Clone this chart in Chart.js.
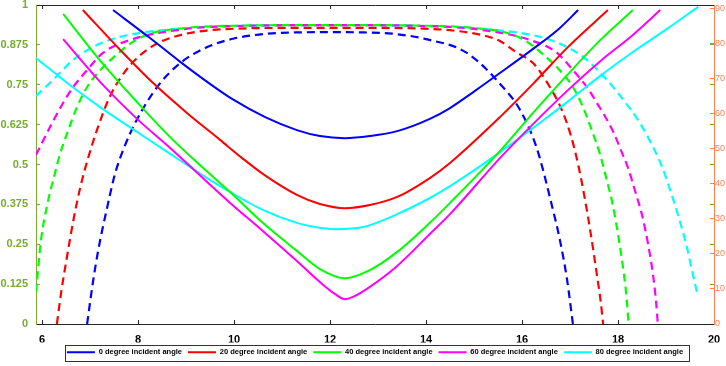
<!doctype html>
<html>
  <head>
    <title>Incident angle chart</title>
    <style>
      body { margin: 0; background: #fff; }
      #wrap { width: 726px; height: 366px; position: relative; }
    </style>
  </head>
  <body>
    <div id="wrap"><canvas id="line_chart"></canvas></div>
  </body>
  <script src="https://cdn.jsdelivr.net/npm/chart.js"></script>
  <script>
    // x axis ticks and legend text
    const xTicks = [6, 8, 10, 12, 14, 16, 18, 20];
    const angleLabels = ['0 degree incident angle', '20 degree incident angle', '40 degree incident angle',
                         '60 degree incident angle', '80 degree incident angle'];
    const lineColors = ['#0000ff', '#ff0000', '#00ff00', '#ff00ff', '#00ffff'];

    // solid curves (right axis, 0..90)
    const solid0X = [7.48, 8.25, 8.88, 9.5, 9.96, 10.65, 11.31, 11.79, 12.31, 12.83, 13.4, 14.08, 14.5, 15.02, 15.54, 16.23, 16.79, 17.17];
    const solid0Y = [89.7, 81.7, 74.9, 68.6, 64.3, 59.1, 55.4, 53.7, 53.1, 53.7, 55.1, 58.6, 61.7, 66.6, 71.7, 78.6, 84.6, 89.7];
    const solid20X = [6.85, 7.63, 8.31, 9.02, 9.71, 10.17, 10.6, 11.31, 11.79, 12.31, 12.83, 13.4, 14.08, 14.5, 15.54, 16.23, 16.94, 17.79];
    const solid20Y = [89.7, 78.3, 68.9, 60.3, 52.6, 47.4, 42.9, 36.9, 34.3, 33.1, 34.0, 36.3, 41.7, 46.0, 59.1, 68.6, 78.9, 89.7];
    const solid40X = [6.44, 7.27, 7.98, 8.67, 9.29, 9.92, 10.6, 11.31, 11.79, 12.31, 12.83, 13.4, 14.08, 14.5, 15.54, 16.23, 16.94, 17.63, 18.31];
    const solid40Y = [88.6, 74.3, 63.4, 53.4, 45.4, 37.7, 28.9, 20.9, 15.7, 13.1, 15.4, 20.6, 28.9, 34.6, 49.4, 60.3, 71.1, 81.1, 89.7];
    const solid60X = [6.44, 7.27, 7.98, 8.67, 9.35, 9.92, 10.6, 11.31, 11.79, 12.1, 12.31, 12.52, 12.83, 13.4, 14.08, 14.5, 15.54, 16.23, 16.94, 17.63, 18.31, 18.88];
    const solid60Y = [81.4, 68.3, 58.6, 50.3, 41.7, 34.6, 26.6, 18.0, 12.0, 8.6, 7.1, 8.0, 10.6, 16.6, 25.7, 31.4, 47.4, 57.1, 66.6, 75.1, 82.6, 89.7];
    const solid80X = [5.875, 6.58, 7.27, 7.98, 8.67, 9.44, 9.92, 10.6, 11.31, 11.69, 12.1, 12.69, 13.4, 14.08, 14.5, 15.13, 15.54, 16.23, 16.94, 17.63, 18.31, 19.02, 19.67];
    const solid80Y = [76.0, 68.3, 61.4, 54.9, 48.6, 41.7, 37.7, 32.6, 28.9, 27.7, 27.1, 27.7, 31.4, 36.0, 39.4, 45.1, 49.1, 56.0, 63.4, 70.9, 77.7, 84.3, 90.6];

    // dashed curves (left axis, 0..1)
    const dash0X = [6.94, 7.06, 7.17, 7.35, 7.52, 7.69, 7.94, 8.4, 8.88, 9.44, 10.0, 10.7, 11.3, 12.0, 12.7, 13.3, 14.0, 14.85, 15.6, 15.96, 16.31, 16.63, 16.79, 16.94, 17.06];
    const dash0Y = [0, 0.13, 0.23, 0.36, 0.47, 0.545, 0.63, 0.743, 0.818, 0.868, 0.895, 0.91, 0.914, 0.915, 0.914, 0.91, 0.893, 0.85, 0.743, 0.671, 0.55, 0.367, 0.263, 0.138, 0];
    const dash20X = [6.31, 6.4, 6.52, 6.66, 6.8, 6.96, 7.15, 7.42, 7.83, 8.31, 8.81, 9.44, 10.06, 11.0, 12.0, 13.0, 13.94, 14.56, 15.19, 15.54, 15.9, 16.23, 16.58, 16.83, 17.02, 17.17, 17.3, 17.43, 17.56, 17.64, 17.69];
    const dash20Y = [0, 0.1, 0.21, 0.33, 0.43, 0.52, 0.61, 0.715, 0.81, 0.872, 0.903, 0.92, 0.926, 0.928, 0.928, 0.928, 0.926, 0.92, 0.905, 0.887, 0.85, 0.818, 0.743, 0.671, 0.59, 0.5, 0.4, 0.285, 0.155, 0.07, 0];
    const dash40X = [5.875, 5.98, 6.1, 6.27, 6.37, 6.54, 6.73, 6.94, 7.21, 7.56, 7.9, 8.25, 9.0, 10.0, 12.0, 14.0, 15.0, 15.75, 16.1, 16.44, 16.79, 17.06, 17.27, 17.46, 17.63, 17.73, 17.9, 18.02, 18.12, 18.18, 18.22];
    const dash40Y = [0.1, 0.263, 0.367, 0.473, 0.53, 0.605, 0.68, 0.743, 0.795, 0.845, 0.885, 0.91, 0.928, 0.935, 0.937, 0.935, 0.928, 0.91, 0.885, 0.845, 0.795, 0.743, 0.68, 0.605, 0.53, 0.473, 0.367, 0.263, 0.16, 0.08, 0];
    const dash60X = [5.875, 6.17, 6.44, 6.65, 6.94, 7.27, 7.83, 9.0, 10.0, 12.0, 14.0, 15.0, 16.17, 16.73, 17.06, 17.35, 17.56, 17.75, 17.92, 18.06, 18.21, 18.35, 18.5, 18.63, 18.73, 18.79, 18.83];
    const dash60Y = [0.53, 0.618, 0.693, 0.743, 0.796, 0.85, 0.89, 0.925, 0.934, 0.937, 0.934, 0.925, 0.89, 0.85, 0.796, 0.743, 0.693, 0.646, 0.596, 0.545, 0.489, 0.42, 0.342, 0.248, 0.154, 0.075, 0];
    const dash80X = [5.875, 6.23, 6.65, 7.06, 7.62, 8.8, 10.0, 12.0, 14.0, 15.2, 16.38, 16.94, 17.35, 17.77, 18.1, 18.42, 18.69, 18.92, 19.1, 19.27, 19.42, 19.54, 19.65];
    const dash80Y = [0.715, 0.765, 0.828, 0.868, 0.9, 0.925, 0.934, 0.937, 0.934, 0.925, 0.9, 0.868, 0.828, 0.765, 0.705, 0.639, 0.567, 0.492, 0.414, 0.332, 0.251, 0.169, 0.097];

    const solidX = [solid0X, solid20X, solid40X, solid60X, solid80X];
    const solidY = [solid0Y, solid20Y, solid40Y, solid60Y, solid80Y];
    const dashX = [dash0X, dash20X, dash40X, dash60X, dash80X];
    const dashY = [dash0Y, dash20Y, dash40Y, dash60Y, dash80Y];

    const green = '#77ac30';
    const orange = '#ff7f50';
    const dark = '#262626';
    const fontFam = '"Liberation Sans", Arial, sans-serif';

    function toPoints(xs, ys) {
      return xs.map((x, i) => ({x: x, y: ys[i]}));
    }

    let datasets = [];
    for (let i = 0; i < 5; i++) {
      datasets.push({
        label: angleLabels[i],
        data: toPoints(solidX[i], solidY[i]),
        yAxisID: 'y2',
        borderColor: lineColors[i],
        backgroundColor: lineColors[i],
        borderWidth: 2,
        pointRadius: 0,
        cubicInterpolationMode: 'monotone',
      });
    }
    for (let i = 0; i < 5; i++) {
      datasets.push({
        label: angleLabels[i] + ' (dashed)',
        data: toPoints(dashX[i], dashY[i]),
        yAxisID: 'y',
        borderColor: lineColors[i],
        backgroundColor: lineColors[i],
        borderWidth: 2.2,
        borderDash: [8, 5],
        pointRadius: 0,
        cubicInterpolationMode: 'monotone',
      });
    }

    // box around the legend, like the matlab one
    const legendBox = {
      id: 'legendBox',
      afterDraw(chart) {
        const hb = chart.legend.legendHitBoxes;
        if (!hb || !hb.length) return;
        const last = hb[hb.length - 1];
        const ctx = chart.ctx;
        ctx.save();
        ctx.strokeStyle = '#333';
        ctx.lineWidth = 1;
        ctx.strokeRect(Math.round(hb[0].left - 2) + 0.5, Math.round(hb[0].top - 4) + 0.5,
                       Math.round(last.left + last.width + 6 - hb[0].left + 2), Math.round(hb[0].height + 8));
        ctx.restore();
      }
    };

    const fmt = (v) => String(+v.toFixed(3));
    // labels sit outside, ticks point inward: keep the label padding out of the layout
    const noPad = (s) => { s.paddingTop = 0; s.paddingBottom = 0; s.paddingLeft = 0; s.paddingRight = 0; };

    const lineChart = new Chart(document.getElementById('line_chart'), {
      type: 'line',
      data: {datasets: datasets},
      plugins: [legendBox],
      options: {
        responsive: true,
        maintainAspectRatio: false,
        devicePixelRatio: 1,
        animation: false,
        layout: {padding: {top: 5, bottom: 0, left: 0, right: 0}},
        plugins: {
          tooltip: {enabled: false},
          legend: {
            position: 'bottom',
            fullSize: false,
            labels: {
              filter: (item) => item.datasetIndex < 5,
              usePointStyle: true,
              pointStyle: 'line',
              pointStyleWidth: 28,
              padding: 6,
              color: '#000',
              font: {family: fontFam, size: 7.5, weight: 'bold'},
            }
          }
        },
        scales: {
          x: {
            type: 'linear',
            position: 'bottom',
            min: 5.875,
            max: 20,
            afterFit: (s) => { s.height = 18.5; noPad(s); },
            afterBuildTicks: (s) => { s.ticks = xTicks.map(v => ({value: v})); },
            ticks: {color: '#000', padding: 13.5, font: {family: fontFam, size: 11, weight: 'bold'}},
            grid: {drawOnChartArea: false, tickLength: -4, tickColor: dark},
            border: {color: dark},
          },
          x2: {
            type: 'linear',
            position: 'top',
            min: 5.875,
            max: 20,
            afterFit: (s) => { s.height = 0; noPad(s); },
            afterBuildTicks: (s) => { s.ticks = xTicks.map(v => ({value: v})); },
            ticks: {display: false},
            grid: {drawOnChartArea: false, tickLength: -4, tickColor: dark},
            border: {color: dark},
          },
          y: {
            position: 'left',
            min: 0,
            max: 1,
            afterFit: (s) => { s.width = 36; noPad(s); },
            ticks: {stepSize: 0.125, callback: fmt, color: green, padding: 12,
                    font: {family: fontFam, size: 11, weight: 'bold'}},
            grid: {drawOnChartArea: false, tickLength: -4, tickColor: green},
            border: {color: green},
          },
          y3: {
            position: 'right',
            weight: 0,
            min: 0,
            max: 1,
            afterFit: (s) => { s.width = 0; noPad(s); },
            ticks: {stepSize: 0.125, display: false},
            grid: {drawOnChartArea: false, tickLength: -4, tickColor: green},
            border: {display: false},
          },
          y2: {
            position: 'right',
            weight: 1,
            min: 0,
            max: 91.14,
            afterFit: (s) => { s.width = 12; noPad(s); },
            ticks: {stepSize: 10, includeBounds: false, color: orange, padding: 5,
                    font: {family: fontFam, size: 9}},
            grid: {drawOnChartArea: false, tickLength: -4, tickColor: orange},
            border: {color: orange},
          }
        }
      }
    });
  </script>
</html>
